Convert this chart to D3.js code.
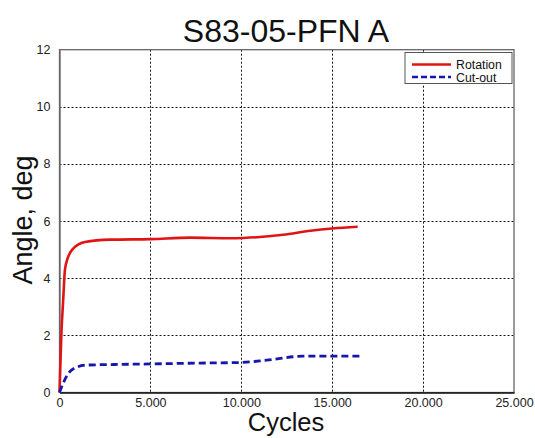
<!DOCTYPE html>
<html>
<head>
<meta charset="utf-8">
<script src="https://cdn.jsdelivr.net/npm/d3@7"></script>
<style>
  html, body { margin: 0; padding: 0; background: #fff; }
  svg { display: block; font-family: "Liberation Sans", Arial, Helvetica, sans-serif; }
</style>
</head>
<body>
<svg id="chart" width="535" height="438"></svg>
<script>
// Test specimen S83-05-PFN A: angle vs. loading cycles
const title = "S83-05-PFN A";
const xLabel = "Cycles";
const yLabel = "Angle, deg";

const rotationCycles = [0, 100, 200, 300, 450, 700, 1400, 2800, 5000, 7200, 9400, 10100, 12300, 13800, 15000, 16400];
const rotationAngle  = [0, 2.0, 3.2, 4.3, 4.7, 5.0, 5.27, 5.35, 5.37, 5.42, 5.40, 5.41, 5.52, 5.66, 5.74, 5.80];

const cutoutCycles = [0, 200, 500, 1000, 1500, 3000, 5000, 7700, 9900, 11400, 13400, 15000, 16500];
const cutoutAngle  = [0, 0.32, 0.68, 0.90, 0.96, 0.98, 1.0, 1.03, 1.05, 1.13, 1.27, 1.27, 1.27];

const xTicks = [0, 5000, 10000, 15000, 20000, 25000];
const yTicks = [0, 2, 4, 6, 8, 10, 12];

const seriesNames = ["Rotation", "Cut-out"];
const seriesColors = ["#e01414", "#1616ad"];

const svg = d3.select("#chart");
const plotLeft = 59.5, plotRight = 514, plotTop = 49.7, plotBottom = 392.5;

const x = d3.scaleLinear().domain([0, 25000]).range([plotLeft, plotRight]);
const y = d3.scaleLinear().domain([0, 12]).range([plotBottom, plotTop]);

const locale = d3.formatLocale({ decimal: ",", thousands: ".", grouping: [3], currency: ["", ""] });
const fmt = locale.format(",d");

// grid
const grid = svg.append("g");
grid.selectAll("line.v").data(xTicks.slice(1, -1)).join("line")
  .attr("x1", d => Math.round(x(d)) + 0.5).attr("x2", d => Math.round(x(d)) + 0.5)
  .attr("y1", plotTop).attr("y2", plotBottom)
  .attr("stroke", "#111").attr("stroke-width", 1).attr("stroke-dasharray", "2,2");
grid.selectAll("line.h").data(yTicks.slice(1, -1)).join("line")
  .attr("x1", plotLeft).attr("x2", plotRight)
  .attr("y1", d => Math.round(y(d)) + 0.5).attr("y2", d => Math.round(y(d)) + 0.5)
  .attr("stroke", "#111").attr("stroke-width", 1).attr("stroke-dasharray", "2,2");

// frame
svg.append("rect").attr("x", plotLeft).attr("y", plotTop)
  .attr("width", plotRight - plotLeft).attr("height", plotBottom - plotTop)
  .attr("fill", "none").attr("stroke", "#666").attr("stroke-width", 1.3);

// axes
const xAxis = svg.append("g").attr("transform", `translate(0,${plotBottom})`)
  .call(d3.axisBottom(x).tickValues(xTicks).tickFormat(fmt).tickSize(0).tickPadding(6));
const yAxis = svg.append("g").attr("transform", `translate(${plotLeft},0)`)
  .call(d3.axisLeft(y).tickValues(yTicks).tickFormat(d3.format("d")).tickSize(0).tickPadding(9));
[xAxis, yAxis].forEach(g => {
  g.select(".domain").attr("stroke", "#111").attr("stroke-width", 1.5);
  g.selectAll("text").attr("font-size", 12.5).attr("fill", "#222")
    .attr("font-family", "'Liberation Sans', Arial, sans-serif");
});
yAxis.select(".domain").attr("stroke", "#666").attr("stroke-width", 1.3);

// lines
const line = d3.line().x(d => x(d[0])).y(d => y(d[1])).curve(d3.curveMonotoneX);
const rotation = rotationCycles.map((c, i) => [c, rotationAngle[i]]);
const cutout = cutoutCycles.map((c, i) => [c, cutoutAngle[i]]);

svg.append("path").datum(rotation).attr("d", line)
  .attr("fill", "none").attr("stroke", seriesColors[0]).attr("stroke-width", 2.6)
  .attr("stroke-linejoin", "round");
svg.append("path").datum(cutout).attr("d", line)
  .attr("fill", "none").attr("stroke", seriesColors[1]).attr("stroke-width", 2.8)
  .attr("stroke-dasharray", "7,4");

// legend
const lg = svg.append("g");
lg.append("rect").attr("x", 405).attr("y", 52.5).attr("width", 107).attr("height", 31)
  .attr("fill", "#fff").attr("stroke", "#555").attr("stroke-width", 1);
seriesNames.forEach((name, i) => {
  const ly = 64.5 + i * 12.5;
  lg.append("line").attr("x1", 412).attr("x2", 451).attr("y1", ly).attr("y2", ly)
    .attr("stroke", seriesColors[i]).attr("stroke-width", i ? 2.6 : 2.4)
    .attr("stroke-dasharray", i ? "6,3" : null);
  lg.append("text").attr("x", 456).attr("y", ly + 4.5).attr("font-size", 12.3).attr("fill", "#111")
    .text(name);
});

// titles
svg.append("text").attr("x", 286).attr("y", 42).attr("text-anchor", "middle")
  .attr("font-size", 32).attr("fill", "#111").text(title);
svg.append("text").attr("x", 286).attr("y", 431).attr("text-anchor", "middle")
  .attr("font-size", 25.5).attr("fill", "#111").text(xLabel);
svg.append("text").attr("transform", "translate(32,220) rotate(-90)").attr("text-anchor", "middle")
  .attr("font-size", 27).attr("fill", "#111").text(yLabel);
</script>
</body>
</html>
